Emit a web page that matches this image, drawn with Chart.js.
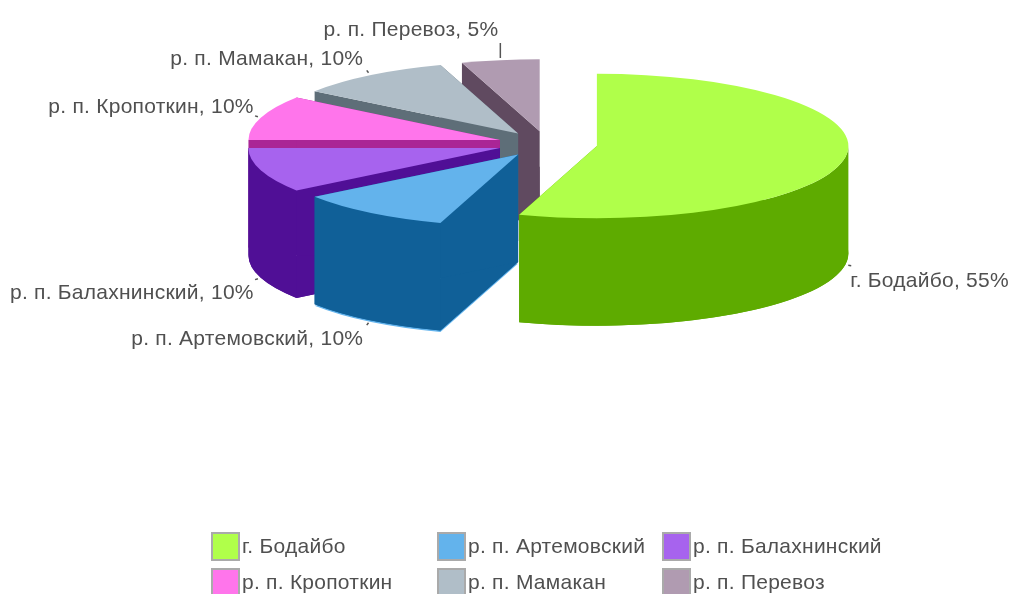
<!DOCTYPE html>
<html>
<head>
<meta charset="utf-8">
<style>html,body{margin:0;padding:0;background:#fff;overflow:hidden}canvas{display:block}</style>
<script src="https://cdn.jsdelivr.net/npm/chart.js@4"></script>
</head>
<body>
<canvas id="c" width="1014" height="594"></canvas>
<script>
const categories = ['г. Бодайбо','р. п. Артемовский','р. п. Балахнинский','р. п. Кропоткин','р. п. Мамакан','р. п. Перевоз'];
const shares = [55,10,10,10,10,5];
const topColors = ['#B0FF4A','#63B3EC','#A763EE','#FF75EB','#B0BEC8','#B09BB1'];
const sideColors = ['#5EAB00','#106098','#500F96','#AA2596','#5E6E78','#604A60'];

const FONT = '21px "Liberation Sans", Arial, sans-serif';
const SPACING = '0.25px';
const TEXT = '#505050';
const SQUASH = 0.287, OFFSET_SQUASH = 0.257, DEPTH = 107.5, CENTER_Y = 144;
// label placement relative to each slice's leader anchor: [dx, dy, leader length]
const labelPlace = [[5,16,3],[-7,19,3],[-7,15,3],[-7,-11,3],[-7,-16,3],[-2,-30,15]];
const legendCols = [212,438,663], legendRows = [533,569], SWATCH = 27;

const pie3d = {
  id:'pie3d',
  beforeDatasetsDraw(chart){
    const ctx = chart.ctx, arcs = chart.getDatasetMeta(0).data;
    const geom = arcs.map(a=>{
      const mid=(a.startAngle+a.endAngle)/2, off=a.options.offset;
      return {a,mid,off,
        x:a.x+Math.cos(mid)*off,
        y:CENTER_Y+Math.sin(mid)*off*OFFSET_SQUASH,
        rx:a.outerRadius, ry:a.outerRadius*SQUASH};
    });
    const path=(g,dy)=>{
      ctx.beginPath();
      ctx.moveTo(g.x,g.y+dy);
      ctx.ellipse(g.x,g.y+dy,g.rx,g.ry,0,g.a.startAngle,g.a.endAngle);
      ctx.closePath();
    };
    const cutFace=(g,ang)=>{
      const ex=g.x+Math.cos(ang)*g.rx, ey=g.y+Math.sin(ang)*g.ry;
      ctx.beginPath();
      ctx.moveTo(g.x,g.y);ctx.lineTo(ex,ey);ctx.lineTo(ex,ey+DEPTH);ctx.lineTo(g.x,g.y+DEPTH);
      ctx.closePath();ctx.fill();
    };
    const wall=(g)=>{
      const a0=Math.max(g.a.startAngle,0), a1=Math.min(g.a.endAngle,Math.PI);
      if(a1<=a0) return;
      ctx.beginPath();
      ctx.ellipse(g.x,g.y,g.rx,g.ry,0,a0,a1);
      ctx.ellipse(g.x,g.y+DEPTH,g.rx,g.ry,0,a1,a0,true);
      ctx.closePath();ctx.fill();
    };
    // back slices first, the large front slice last
    const order=[5,4,3,2,1,0];
    order.forEach(i=>{
      const g=geom[i];
      if(i===1){ctx.fillStyle=topColors[i];path(g,DEPTH+1.5);ctx.fill();}
      ctx.fillStyle=sideColors[i];
      path(g,DEPTH);ctx.fill();
      cutFace(g,g.a.startAngle);cutFace(g,g.a.endAngle);wall(g);
      ctx.fillStyle=topColors[i];path(g,0);ctx.fill();
    });
    // leaders and labels
    ctx.font=FONT;ctx.letterSpacing=SPACING;ctx.textBaseline='middle';
    geom.forEach((g,i)=>{
      const c=Math.cos(g.mid),s=Math.sin(g.mid);
      const front=s>0?DEPTH:0;
      const ax=g.x+c*g.rx, ay=g.y+s*g.ry+front;
      const [dx,dy,len]=labelPlace[i];
      ctx.strokeStyle='#555';ctx.lineWidth=len>5?1.5:1.5;
      ctx.beginPath();
      if(len>5){ctx.moveTo(ax,ay-2);ctx.lineTo(ax,ay-2-len);}
      else{ctx.moveTo(ax+c*3,ay+s*3);ctx.lineTo(ax+c*3+c*len,ay+s*3+s*len);}
      ctx.stroke();
      ctx.fillStyle=TEXT;
      ctx.textAlign=c>0?'left':'right';
      ctx.fillText(categories[i]+', '+shares[i]+'%',ax+dx,ay+dy);
    });
    return false;
  },
  afterDraw(chart){
    const ctx=chart.ctx;
    ctx.font=FONT;ctx.letterSpacing=SPACING;ctx.textBaseline='middle';ctx.textAlign='left';
    categories.forEach((t,i)=>{
      const x=legendCols[i%3], y=legendRows[Math.floor(i/3)];
      ctx.fillStyle=topColors[i];ctx.fillRect(x,y,SWATCH,SWATCH);
      ctx.strokeStyle='#AAAAAA';ctx.lineWidth=2;ctx.strokeRect(x,y,SWATCH,SWATCH);
      ctx.fillStyle=TEXT;ctx.fillText(t,x+SWATCH+3,y+SWATCH/2+1);
    });
  }
};

new Chart(document.getElementById('c'),{
  type:'pie',
  data:{labels:categories,datasets:[{data:shares,backgroundColor:topColors,borderWidth:0,offset:50}]},
  options:{
    responsive:false,animation:false,
    layout:{padding:{left:271,right:190,top:20.5,bottom:20.5}},
    plugins:{legend:{display:false},tooltip:{enabled:false},title:{display:false}}
  },
  plugins:[pie3d]
});
</script>
</body>
</html>
